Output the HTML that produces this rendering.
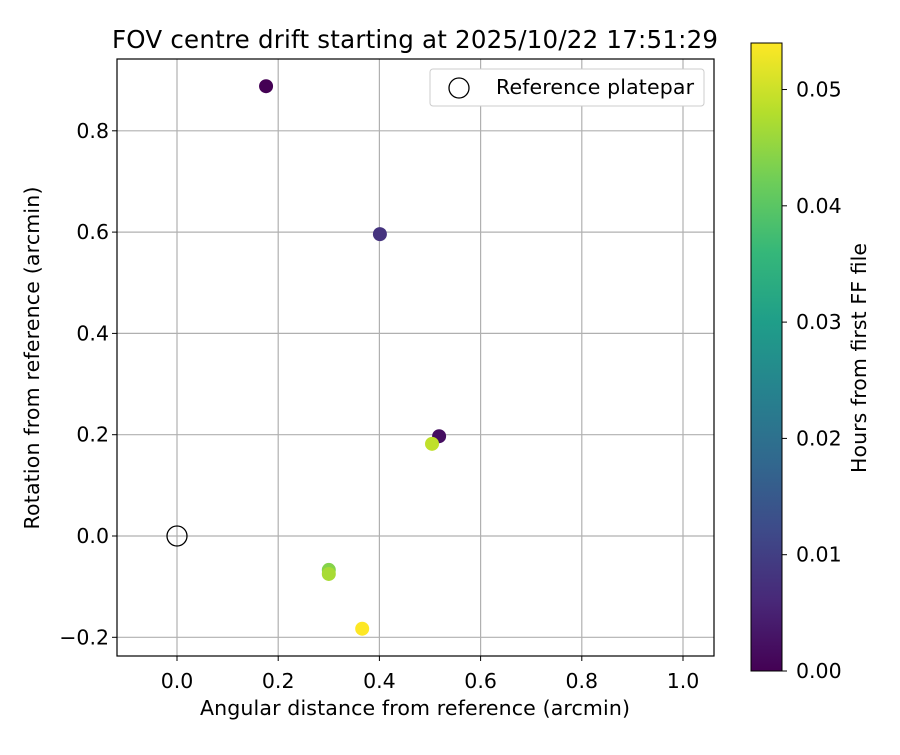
<!DOCTYPE html>
<html><head><meta charset="utf-8"><style>
body{margin:0;background:#fff;font-family:"Liberation Sans","DejaVu Sans",sans-serif}
svg text{font-family:"DejaVu Sans","Liberation Sans",sans-serif;fill:#000}
</style></head><body>
<svg id="c" width="900" height="750"></svg>
<script>
const xs=[0.176,0.518,0.401,0.300,0.300,0.504,0.366];
const ys=[0.888,0.197,0.596,-0.067,-0.075,0.182,-0.183];
const ts=[0.000,0.002,0.008,0.044,0.047,0.049,0.054];
const xTicks=[0.0,0.2,0.4,0.6,0.8,1.0];
const yTicks=[-0.2,0.0,0.2,0.4,0.6,0.8];
const cTicks=[0.00,0.01,0.02,0.03,0.04,0.05];
const NS='http://www.w3.org/2000/svg';
const svg=document.getElementById('c');
const L=117,R=714,T=59,B=656;
const FS=20.5;
const X=v=>177+(v)*506;
const Y=v=>536-v*506.5;
const CB={l:751,r:782,t:43,b:671,max:0.054};
const CY=v=>CB.b-v/CB.max*(CB.b-CB.t);
const vir=[[68,1,84],[72,40,120],[62,74,137],[49,104,142],[38,130,142],[31,158,137],[53,183,121],[109,205,89],[180,222,44],[253,231,37]];
function col(f){f=Math.max(0,Math.min(1,f))*9;const i=Math.min(8,Math.floor(f)),r=f-i;const a=vir[i],b=vir[i+1];return 'rgb('+a.map((v,k)=>Math.round(v+(b[k]-v)*r)).join(',')+')';}
function el(t,a,p){const e=document.createElementNS(NS,t);for(const k in a)e.setAttribute(k,a[k]);(p||svg).appendChild(e);return e;}
function tx(s,a){const e=el('text',a);e.textContent=s;return e;}
xTicks.forEach(v=>{const g=el('line',{x1:X(v),x2:X(v),y1:T,y2:B,stroke:'#b0b0b0','stroke-width':1.2});


el('line',{x1:X(v),x2:X(v),y1:B,y2:B+5,stroke:'#000'});
const t=tx(v.toFixed(1),{x:X(v),y:B+32,'text-anchor':'middle','font-size':FS});

});
yTicks.forEach(v=>{const g=el('line',{x1:L,x2:R,y1:Y(v),y2:Y(v),stroke:'#b0b0b0','stroke-width':1.2});


el('line',{x1:L-5,x2:L,y1:Y(v),y2:Y(v),stroke:'#000'});
const t=tx((v<0?'\u2212':'')+Math.abs(v).toFixed(1),{x:L-8,y:Y(v)+7,'text-anchor':'end','font-size':FS});

});
const ref=el('circle',{cx:X(0),cy:Y(0),r:10,fill:'none',stroke:'#000','stroke-width':1.3});


xs.forEach((x,i)=>{const c=el('circle',{cx:X(x),cy:Y(ys[i]),r:7,fill:col(ts[i]/CB.max)});

});
const fr=el('rect',{x:L,y:T,width:R-L,height:B-T,fill:'none',stroke:'#000','stroke-width':1.2});


const lg=el('g',{});


el('rect',{x:430,y:69,width:274,height:37,rx:3,fill:'#fff',stroke:'#ccc'},lg);
el('circle',{cx:459,cy:88,r:10,fill:'none',stroke:'#000','stroke-width':1.3},lg);
const lt=el('text',{x:496,y:94,'font-size':FS,textLength:198},lg);lt.textContent='Reference platepar';
const tt=tx('FOV centre drift starting at 2025/10/22 17:51:29',{x:415,y:48,'text-anchor':'middle','font-size':24.5,textLength:606});


const xt=tx('Angular distance from reference (arcmin)',{x:415,y:715,'text-anchor':'middle','font-size':FS,textLength:430});


const yt=tx('Rotation from reference (arcmin)',{x:0,y:0,'text-anchor':'middle','font-size':FS,textLength:343,transform:'translate(39,358) rotate(-90)'});


const defs=el('defs',{});const gr=el('linearGradient',{id:'vg',x1:0,y1:1,x2:0,y2:0},defs);
vir.forEach((c,i)=>el('stop',{offset:i/9,'stop-color':'rgb('+c.join(',')+')'},gr));
const cb=el('rect',{x:CB.l,y:CB.t,width:CB.r-CB.l,height:CB.b-CB.t,fill:'url(#vg)',stroke:'#000','stroke-width':1});


cTicks.forEach(v=>{el('line',{x1:CB.r,x2:CB.r+5,y1:CY(v),y2:CY(v),stroke:'#000'});
const t=tx(v.toFixed(2),{x:CB.r+14,y:CY(v)+7,'font-size':FS});

});
const ct=tx('Hours from first FF file',{x:0,y:0,'text-anchor':'middle','font-size':FS,textLength:230,transform:'translate(866,358) rotate(-90)'});


</script>
</body></html>
